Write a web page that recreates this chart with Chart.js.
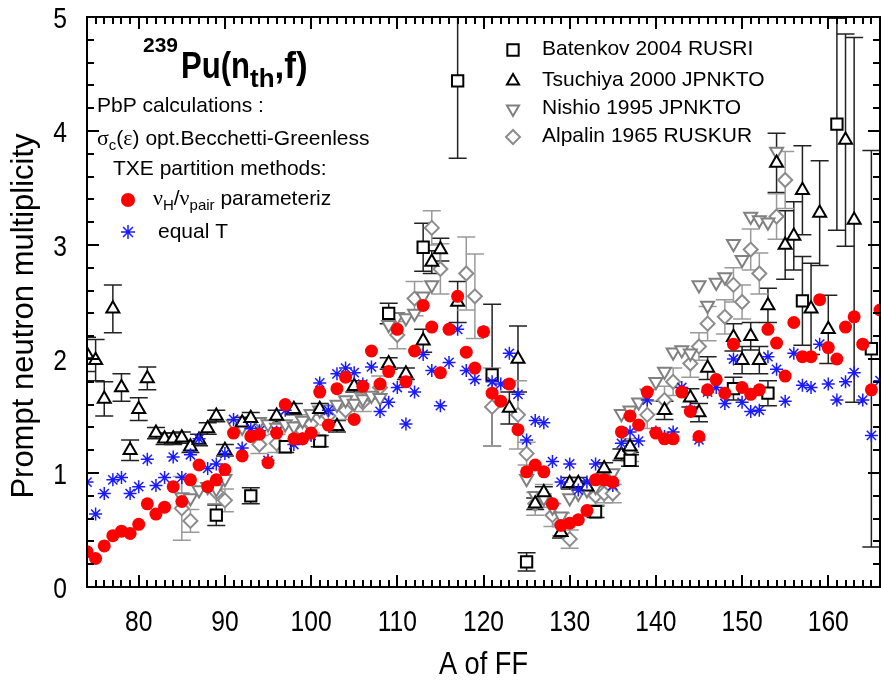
<!DOCTYPE html>
<html lang="en">
<head>
<meta charset="UTF-8">
<title>239Pu(nth,f) prompt neutron multiplicity</title>
<script src="https://cdn.jsdelivr.net/npm/chart.js@4.4.1/dist/chart.umd.min.js"></script>
<style>
  html, body { margin: 0; padding: 0; background: #fff; }
  #wrap { width: 881px; height: 684px; }
</style>
</head>
<body>
<div id="wrap"><canvas id="chart"></canvas></div>
<script>
// PbP calculations, one value per fragment mass
const massA = [74, 75, 76, 77, 78, 79, 80, 81, 82, 83, 84, 85, 86, 87, 88, 89, 90, 91, 92, 93,
  94, 95, 96, 97, 98, 99, 100, 101, 102, 103, 104, 105, 106, 107, 108, 109, 110, 111, 112, 113,
  114, 115, 116, 117, 118, 119, 120, 121, 122, 123, 124, 125, 126, 127, 128, 129, 130, 131, 132, 133,
  134, 135, 136, 137, 138, 139, 140, 141, 142, 143, 144, 145, 146, 147, 148, 149, 150, 151, 152, 153,
  154, 155, 156, 157, 158, 159, 160, 161, 162, 163, 164, 165, 166];
const nuParam = [0.31, 0.25, 0.36, 0.45, 0.49, 0.47, 0.55, 0.73, 0.64, 0.70, 0.88, 0.75, 0.94, 1.07, 0.88, 0.94, 1.03, 1.35, 1.15, 1.32,
  1.34, 1.09, 1.35, 1.60, 1.30, 1.30, 1.35, 1.71, 1.42, 1.74, 1.84, 1.47, 1.76, 2.07, 1.78, 1.89, 2.26, 1.80, 2.07, 2.47,
  2.28, 1.88, 2.26, 2.55, 2.06, 1.92, 2.24, 1.70, 1.63, 1.78, 1.38, 1.01, 1.07, 1.01, 0.73, 0.54, 0.56, 0.59, 0.67, 0.94,
  0.94, 0.92, 1.36, 1.50, 1.42, 1.71, 1.35, 1.30, 1.30, 1.71, 1.54, 1.32, 1.73, 1.82, 1.70, 2.13, 1.75, 1.69, 1.73, 2.26,
  2.14, 1.85, 2.32, 2.02, 2.02, 2.52, 2.10, 2.00, 2.28, 2.37, 2.13, 1.73, 2.43];
const nuEqualT = [0.92, 0.64, 0.82, 0.94, 0.96, 0.82, 0.88, 1.12, 0.89, 0.96, 1.14, 0.96, 1.16, 1.30, 1.04, 1.08, 1.17, 1.47, 1.22, 1.39,
  1.37, 1.11, 1.36, 1.55, 1.25, 1.30, 1.33, 1.79, 1.55, 1.87, 1.92, 1.88, 1.78, 1.93, 1.54, 1.62, 1.75, 1.43, 1.71, 2.04,
  1.90, 1.59, 1.97, 2.26, 1.90, 1.82, 2.24, 1.80, 1.78, 2.05, 1.69, 1.29, 1.46, 1.44, 1.10, 0.92, 1.08, 0.85, 0.92, 1.08,
  0.94, 0.89, 1.26, 1.36, 1.28, 1.64, 1.36, 1.32, 1.36, 1.75, 1.55, 1.29, 1.71, 1.75, 1.61, 2.00, 1.62, 1.54, 1.55, 2.02,
  1.91, 1.63, 2.05, 1.77, 1.75, 2.13, 1.78, 1.64, 1.80, 1.88, 1.64, 1.33, 1.81];

// Batenkov 2004 (RUSRI)
const batenkovA = [89, 93, 97, 101, 109, 113, 117, 121, 125, 133, 137, 149, 153, 157, 161, 165];
const batenkovNu = [0.63, 0.80, 1.23, 1.28, 2.40, 2.98, 4.44, 1.86, 0.22, 0.66, 1.11, 1.74, 1.70, 2.51, 4.06, 2.09];
const batenkovErr = [0.09, 0.07, 0.05, 0.05, 0.09, 0.21, 0.68, 0.62, 0.08, 0.05, 0.05, 0.10, 0.11, 0.39, 0.93, 1.74];

// Tsuchiya 2000 (JPNKTO)
const tsuchiyaA = [74, 75, 76, 77, 78, 79, 80, 81, 82, 83, 84, 85, 86, 87, 88, 89, 90, 92, 93, 96,
  98, 101, 103, 105, 109, 111, 113, 114, 115, 117, 123, 124, 126, 127, 129, 130, 131, 132, 134, 136,
  137, 141, 144, 145, 146, 149, 150, 151, 152, 153, 154, 155, 156, 157, 158, 159, 160, 162, 163];
const tsuchiyaNu = [2.04, 1.99, 1.65, 2.44, 1.75, 1.20, 1.56, 1.83, 1.35, 1.30, 1.30, 1.31, 1.23, 1.29, 1.39, 1.50, 1.20, 1.44, 1.48, 1.50,
  1.56, 1.56, 1.41, 1.76, 1.96, 1.87, 2.16, 2.85, 2.96, 2.50, 1.57, 2.00, 0.73, 0.83, 0.48, 0.91, 0.91, 0.88, 1.04, 1.16,
  1.23, 1.55, 1.66, 1.53, 1.92, 2.19, 1.99, 2.20, 1.99, 2.47, 3.72, 3.00, 3.08, 3.48, 2.44, 3.28, 2.26, 3.92, 3.22];
const tsuchiyaErr = [0.15, 0.18, 0.15, 0.21, 0.12, 0.09, 0.10, 0.10, 0.05, 0.05, 0.05, 0.05, 0.05, 0.05, 0.05, 0.05, 0.05, 0.05, 0.05, 0.05,
  0.05, 0.05, 0.05, 0.05, 0.05, 0.05, 0.10, 0.10, 0.10, 0.18, 0.14, 0.29, 0.05, 0.05, 0.05, 0.05, 0.05, 0.05, 0.05, 0.05,
  0.05, 0.08, 0.08, 0.08, 0.10, 0.12, 0.12, 0.12, 0.12, 0.15, 0.26, 0.30, 0.30, 0.39, 0.40, 0.46, 0.30, 0.93, 1.60];

// Nishio 1995 (JPNKTO)
const nishioA = [85, 86, 87, 88, 89, 90, 91, 92, 93, 94, 95, 96, 97, 98, 99, 100, 101, 102, 103, 104,
  105, 106, 107, 108, 109, 110, 111, 112, 113, 114, 125, 126, 127, 128, 129, 130, 131, 132, 133, 134,
  135, 136, 137, 138, 139, 140, 141, 142, 143, 144, 145, 146, 147, 148, 149, 150, 151, 152, 153, 154];
const nishioNu = [0.79, 0.78, 0.85, 0.88, 0.86, 0.95, 1.43, 1.40, 1.44, 1.45, 1.43, 1.40, 1.43, 1.41, 1.46, 1.52, 1.55, 1.56, 1.60, 1.64,
  1.61, 1.65, 1.68, 1.66, 2.30, 2.37, 2.36, 2.40, 2.55, 2.65, 0.95, 0.80, 0.78, 0.70, 0.62, 0.78, 0.82, 0.85, 0.88, 0.95,
  1.00, 1.52, 1.55, 1.62, 1.70, 1.80, 1.89, 2.06, 2.08, 2.05, 2.65, 2.47, 2.67, 2.72, 3.01, 2.87, 3.25, 3.22, 3.20, 3.82];

// Alpalin 1965 (RUSKUR)
const alpalinA = [85, 86, 89, 90, 94, 96, 99, 100, 102, 104, 106, 108, 110, 112, 114, 115, 118, 119, 121, 124,
  125, 126, 127, 128, 129, 130, 133, 134, 135, 137, 139, 141, 142, 144, 145, 146, 148, 149, 150, 151,
  152, 154, 155];
const alpalinNu = [0.69, 0.58, 0.83, 0.76, 1.25, 1.26, 1.37, 1.43, 1.50, 1.55, 1.62, 1.75, 2.21, 2.53, 3.15, 2.79, 2.75, 2.55, 1.58, 1.51,
  1.17, 0.73, 0.80, 0.63, 0.55, 0.42, 0.80, 0.82, 0.82, 1.20, 1.51, 1.64, 1.80, 1.96, 2.11, 2.31, 2.37, 2.65, 2.50, 2.96,
  2.75, 3.25, 3.57];
const alpalinErr = [0.28, 0.10, 0.10, 0.10, 0.08, 0.08, 0.08, 0.08, 0.08, 0.08, 0.08, 0.10, 0.12, 0.15, 0.15, 0.22, 0.32, 0.37, 0.34, 0.30,
  0.10, 0.10, 0.10, 0.10, 0.10, 0.08, 0.08, 0.08, 0.08, 0.10, 0.12, 0.12, 0.12, 0.12, 0.12, 0.15, 0.15, 0.15, 0.15, 0.18,
  0.18, 0.20, 0.25];

const xTickValues = [80, 90, 100, 110, 120, 130, 140, 150, 160];
const yTickValues = [0, 1, 2, 3, 4, 5];

const pts = (xs, ys) => xs.map((a, i) => ({ x: a, y: ys[i] }));

const FONT = '"Liberation Sans", Arial, sans-serif';
const GREEK = '"Liberation Serif", "DejaVu Serif", serif';

// text squeezed sideways, the way the axis numbers are set
function narrowText(ctx, text, x, y, font, align, squeeze) {
  ctx.save();
  ctx.translate(x, y);
  ctx.scale(squeeze, 1);
  ctx.font = font;
  ctx.textAlign = align;
  ctx.fillText(text, 0, 0);
  ctx.restore();
}

// vertical error bars with caps, clipped to the plot area
const errorBars = {
  id: 'errorBars',
  beforeDatasetsDraw(chart) {
    const { ctx, chartArea: a, scales: { x, y } } = chart;
    ctx.save();
    ctx.beginPath();
    ctx.rect(a.left, a.top, a.width, a.height);
    ctx.clip();
    chart.data.datasets.forEach(ds => {
      if (!ds.errorBars) return;
      ctx.strokeStyle = ds.errorColor;
      ctx.lineWidth = 1.5;
      ds.data.forEach((p, j) => {
        const e = ds.errorBars[j];
        if (!e) return;
        const px = x.getPixelForValue(p.x);
        const top = y.getPixelForValue(p.y + e);
        const bot = y.getPixelForValue(p.y - e);
        const cap = 9;
        ctx.beginPath();
        ctx.moveTo(px, top); ctx.lineTo(px, bot);
        ctx.moveTo(px - cap, top); ctx.lineTo(px + cap, top);
        ctx.moveTo(px - cap, bot); ctx.lineTo(px + cap, bot);
        ctx.stroke();
      });
    });
    ctx.restore();
  }
};

// closed frame, inward ticks on all four sides, tick numbers and axis titles
const frameTicks = {
  id: 'frameTicks',
  afterDraw(chart) {
    const { ctx, chartArea: a, scales: { x, y } } = chart;
    ctx.save();
    ctx.strokeStyle = '#000';
    ctx.lineWidth = 2;
    ctx.strokeRect(a.left, a.top, a.right - a.left, a.bottom - a.top);
    ctx.beginPath();
    for (let v = x.min; v <= x.max; v++) {
      const px = Math.round(x.getPixelForValue(v));
      const len = v % 10 === 0 ? 12 : 7;
      ctx.moveTo(px, a.bottom); ctx.lineTo(px, a.bottom - len);
      ctx.moveTo(px, a.top); ctx.lineTo(px, a.top + len);
    }
    for (let k = 0; k <= 25; k++) {
      const py = Math.round(y.getPixelForValue(k * 0.2));
      const len = k % 5 === 0 ? 12 : 7;
      ctx.moveTo(a.left, py); ctx.lineTo(a.left + len, py);
      ctx.moveTo(a.right, py); ctx.lineTo(a.right - len, py);
    }
    ctx.stroke();

    ctx.fillStyle = '#000';
    ctx.textBaseline = 'alphabetic';
    xTickValues.forEach(v => narrowText(ctx, String(v), x.getPixelForValue(v), a.bottom + 44, '30px ' + FONT, 'center', 0.82));
    yTickValues.forEach(v => narrowText(ctx, String(v), a.left - 20, y.getPixelForValue(v) + 11, '30px ' + FONT, 'right', 0.82));

    narrowText(ctx, 'A of FF', (a.left + a.right) / 2, 674, '32px ' + FONT, 'center', 0.85);
    ctx.save();
    ctx.translate(33, 316);
    ctx.rotate(-Math.PI / 2);
    ctx.font = '31px ' + FONT;
    ctx.textAlign = 'center';
    ctx.fillText('Prompt neutron multiplicity', 0, 0);
    ctx.restore();
    ctx.restore();
  }
};

// draws text pieces one after another; each piece: [text, font, dy, squeeze]
function runs(ctx, x, y, pieces) {
  pieces.forEach(([t, f, dy, sq]) => {
    const s = sq || 1;
    ctx.save();
    ctx.translate(x, y + (dy || 0));
    ctx.scale(s, 1);
    ctx.font = f;
    ctx.fillText(t, 0, 0);
    x += ctx.measureText(t).width * s;
    ctx.restore();
  });
}

// title, method notes and both keys
const annotations = {
  id: 'annotations',
  afterDraw(chart) {
    const ctx = chart.ctx;
    ctx.save();
    ctx.fillStyle = '#000';
    ctx.textBaseline = 'alphabetic';
    ctx.textAlign = 'left';

    runs(ctx, 143, 52, [['239', 'bold 21px ' + FONT]]);
    runs(ctx, 181, 78, [
      ['Pu(n', 'bold 37px ' + FONT, 0, 0.84],
      ['th', 'bold 26px ' + FONT, 9],
      [',f)', 'bold 37px ' + FONT, 0, 0.95]
    ]);

    const f = '21px ' + FONT;
    runs(ctx, 97, 112, [['PbP calculations :', f]]);
    runs(ctx, 97, 145, [['σ', '22px ' + GREEK], ['c', '15px ' + FONT, 5], ['(', f], ['ε', '22px ' + GREEK], [') opt.Becchetti-Greenless', f]]);
    runs(ctx, 113, 175, [['TXE partition methods:', f]]);
    runs(ctx, 153, 205, [['ν', '22px ' + GREEK], ['H', '15px ' + FONT, 5], ['/', f], ['ν', '22px ' + GREEK], ['pair', '15px ' + FONT, 5], [' parameteriz', f]]);
    runs(ctx, 158, 238, [['equal T', f]]);

    // calculation key
    ctx.fillStyle = '#ff0000';
    ctx.beginPath();
    ctx.arc(128, 200, 7, 0, Math.PI * 2);
    ctx.fill();
    ctx.strokeStyle = '#1a1aff';
    ctx.lineWidth = 1.5;
    Chart.helpers.drawPoint(ctx, { pointStyle: 'star', radius: 7, rotation: 0, borderWidth: 1.5 }, 128, 232);

    // experiment key
    const rows = [
      ['Batenkov 2004 RUSRI', 'rect', 0, '#000', 50, 8],
      ['Tsuchiya 2000 JPNKTO', 'triangle', 0, '#000', 81, 7],
      ['Nishio 1995 JPNKTO', 'triangle', 180, '#808080', 109, 7],
      ['Alpalin 1965 RUSKUR', 'rectRot', 0, '#8c8c8c', 137, 7]
    ];
    rows.forEach(([label, style, rot, col, cy, r]) => {
      ctx.strokeStyle = col;
      ctx.lineWidth = 2;
      ctx.fillStyle = '#fff';
      Chart.helpers.drawPoint(ctx, { pointStyle: style, radius: r, rotation: rot, borderWidth: 2 }, 513, cy);
      ctx.fillStyle = '#000';
      runs(ctx, 542, cy + 5, [[label, f]]);
    });
    ctx.restore();
  }
};

const openMarker = (label, data, style, rot, color, r) => ({
  label, data,
  pointStyle: style,
  rotation: rot,
  radius: r,
  borderWidth: 2,
  borderColor: color,
  backgroundColor: '#fff',
  showLine: false
});

new Chart(document.getElementById('chart'), {
  type: 'scatter',
  data: {
    datasets: [
      {
        label: 'nuH/nupair parameteriz',
        data: pts(massA, nuParam),
        pointStyle: 'circle', radius: 6.5, borderWidth: 0,
        backgroundColor: '#ff0000', borderColor: '#ff0000'
      },
      {
        label: 'equal T',
        data: pts(massA, nuEqualT),
        pointStyle: 'star', radius: 6.5, borderWidth: 1.5,
        borderColor: '#1a1aff', backgroundColor: '#1a1aff'
      },
      Object.assign(openMarker('Batenkov 2004 RUSRI', pts(batenkovA, batenkovNu), 'rect', 0, '#000', 8),
        { errorBars: batenkovErr, errorColor: '#222' }),
      Object.assign(openMarker('Tsuchiya 2000 JPNKTO', pts(tsuchiyaA, tsuchiyaNu), 'triangle', 0, '#000', 7.5),
        { errorBars: tsuchiyaErr, errorColor: '#222' }),
      openMarker('Nishio 1995 JPNKTO', pts(nishioA, nishioNu), 'triangle', 180, '#808080', 7.5),
      Object.assign(openMarker('Alpalin 1965 RUSKUR', pts(alpalinA, alpalinNu), 'rectRot', 0, '#8c8c8c', 7),
        { errorBars: alpalinErr, errorColor: '#9a9a9a' })
    ]
  },
  options: {
    responsive: true,
    maintainAspectRatio: false,
    animation: false,
    layout: { autoPadding: false, padding: { top: 17, right: 1, left: 0, bottom: 0 } },
    plugins: { legend: { display: false }, tooltip: { enabled: false } },
    scales: {
      x: {
        type: 'linear', min: 74, max: 166,
        afterBuildTicks: s => { s.ticks = xTickValues.map(v => ({ value: v })); },
        afterFit: s => { s.height = 97; },
        grid: { display: false, drawTicks: false },
        border: { display: false },
        ticks: { display: false }
      },
      y: {
        min: 0, max: 5,
        afterBuildTicks: s => { s.ticks = yTickValues.map(v => ({ value: v })); },
        afterFit: s => { s.width = 87; },
        grid: { display: false, drawTicks: false },
        border: { display: false },
        ticks: { display: false }
      }
    }
  },
  plugins: [errorBars, frameTicks, annotations]
});
</script>
</body>
</html>
